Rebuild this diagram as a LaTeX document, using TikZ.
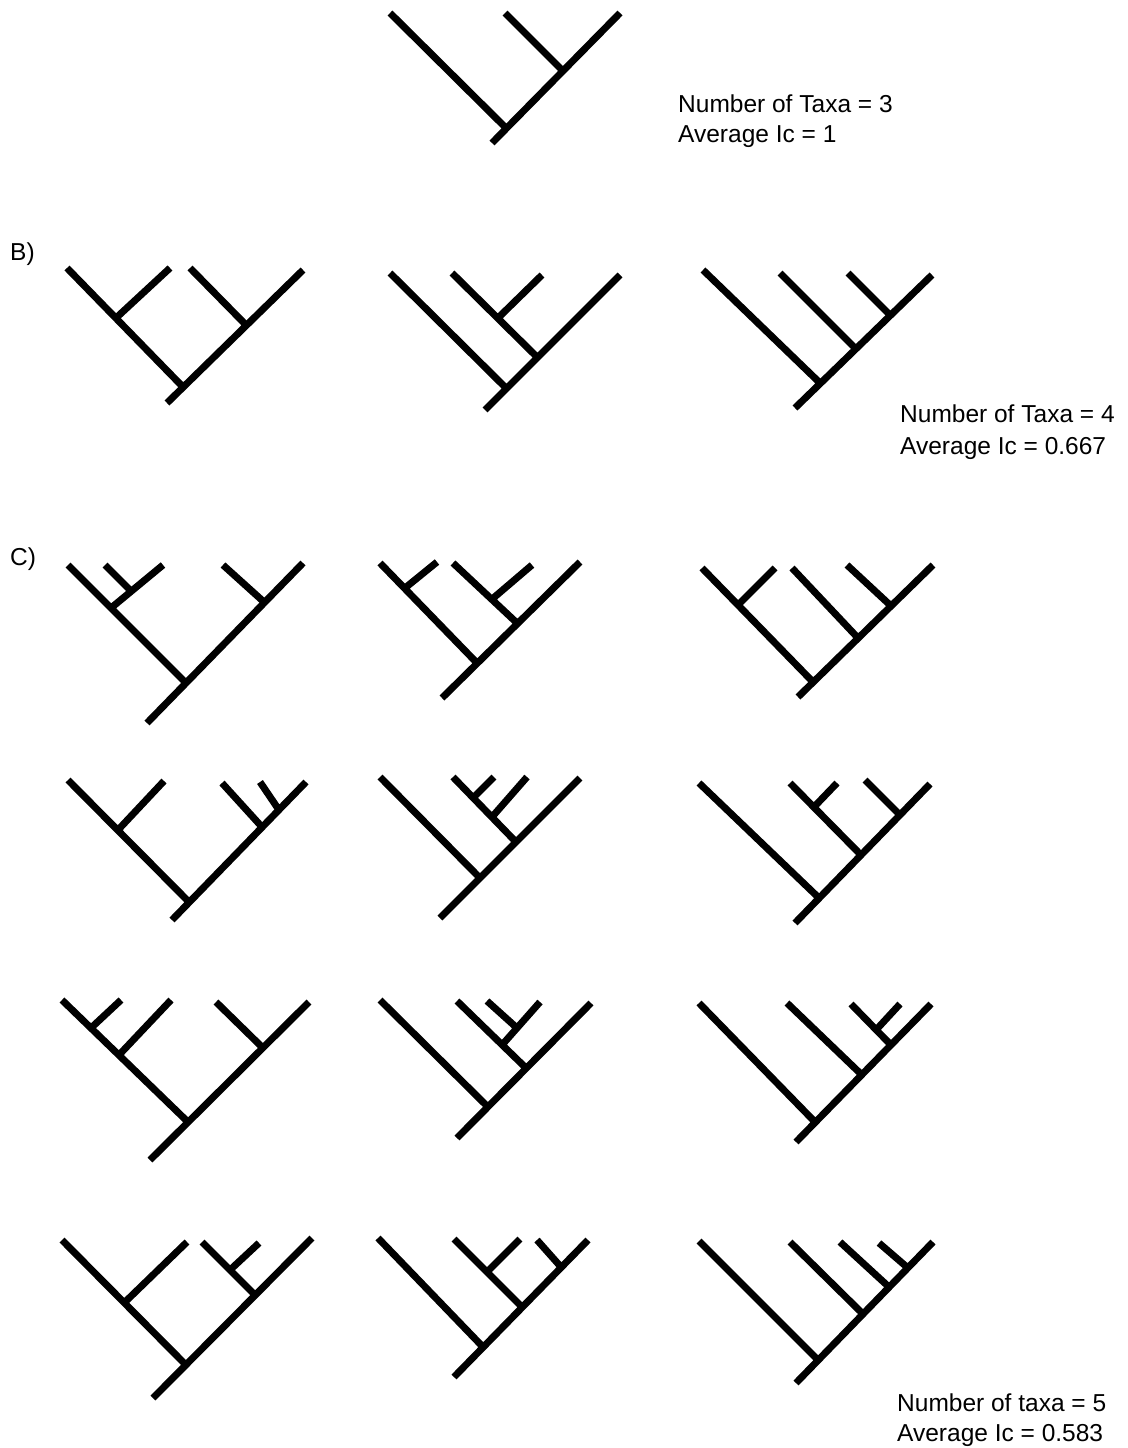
\documentclass[tikz,border=0pt]{standalone}
\usepackage{fontspec}
\setmainfont{Liberation Sans}
\begin{document}
\begin{tikzpicture}[x=1pt, y=-1pt,
  branch/.style={draw=black, line width=7pt},
  lab/.style={anchor=base west, inner sep=0pt, font=\fontsize{24.5}{29}\selectfont},
]
\useasboundingbox (0,0) rectangle (1127,1448);

% A) three taxa
\draw[branch] (390,13) -- (505,127)  (620,13) -- (492,143)  (505,13) -- (562,70);
\node[lab] (taxaA) at (678,112) {Number of Taxa = 3};
\node[lab] (icA) at (678,142) {Average Ic = 1};

% B) four taxa
\node[lab] (labB) at (10,260) {B)};
\draw[branch] (67,268) -- (183,387)  (303,270) -- (167,403)
  (170,268) -- (116,318)  (190,268) -- (246,325);
\draw[branch] (390,273) -- (506,388)  (620,275) -- (485,410)
  (452,273) -- (537,357)  (542,275) -- (498,318);
\draw[branch] (703,270) -- (820,383)  (932,275) -- (795,408)
  (780,273) -- (855,348)  (848,273) -- (890,315);
\node[lab] (taxaB) at (900,422) {Number of Taxa = 4};
\node[lab] (icB) at (900,454) {Average Ic = 0.667};

% C) five taxa, row 1
\node[lab] (labC) at (10,565) {C)};
\draw[branch] (68,565) -- (185,682)  (303,563) -- (147,723)
  (163,565) -- (111,608)  (105,565) -- (132,592)  (223,565) -- (264,602);
\draw[branch] (380,563) -- (477,663)  (580,562) -- (442,698)
  (437,562) -- (405,588)  (453,563) -- (517,623)  (532,565) -- (491,600);
\draw[branch] (702,568) -- (813,682)  (933,565) -- (798,697)
  (775,568) -- (738,605)  (792,568) -- (858,638)  (847,565) -- (890,605);

% row 2
\draw[branch] (68,780) -- (189,902)  (306,782) -- (172,920)
  (164,781) -- (118,830)  (222,783) -- (262,827)  (260,782) -- (279,810);
\draw[branch] (380,777) -- (480,878)  (580,778) -- (440,918)
  (453,777) -- (516,842)  (494,777) -- (473,798)  (527,777) -- (492,817);
\draw[branch] (699,783) -- (819,898)  (930,784) -- (795,923)
  (790,783) -- (861,855)  (837,783) -- (814,807)  (865,780) -- (900,815);

% row 3
\draw[branch] (62,1000) -- (188,1122)  (309,1002) -- (150,1160)
  (121,1000) -- (91,1028)  (171,1000) -- (119,1055)  (216,1002) -- (263,1048);
\draw[branch] (380,1000) -- (488,1107)  (591,1003) -- (457,1138)
  (457,1001) -- (526,1068)  (540,1002) -- (502,1045)  (487,1001) -- (517,1028);
\draw[branch] (699,1003) -- (815,1122)  (931,1004) -- (796,1142)
  (787,1003) -- (862,1075)  (851,1004) -- (891,1045)  (900,1004) -- (876,1030);

% row 4
\draw[branch] (62,1240) -- (186,1365)  (312,1238) -- (153,1398)
  (187,1242) -- (124,1303)  (202,1242) -- (255,1295)  (259,1243) -- (230,1270);
\draw[branch] (378,1238) -- (483,1347)  (588,1240) -- (454,1377)
  (454,1239) -- (522,1307)  (520,1239) -- (487,1272)  (537,1240) -- (561,1267);
\draw[branch] (699,1241) -- (818,1360)  (933,1242) -- (796,1383)
  (790,1242) -- (863,1314)  (840,1242) -- (889,1287)  (879,1243) -- (908,1268);
\node[lab] (taxaC) at (897,1411) {Number of taxa = 5};
\node[lab] (icC) at (897,1441) {Average Ic = 0.583};
\end{tikzpicture}
\end{document}
